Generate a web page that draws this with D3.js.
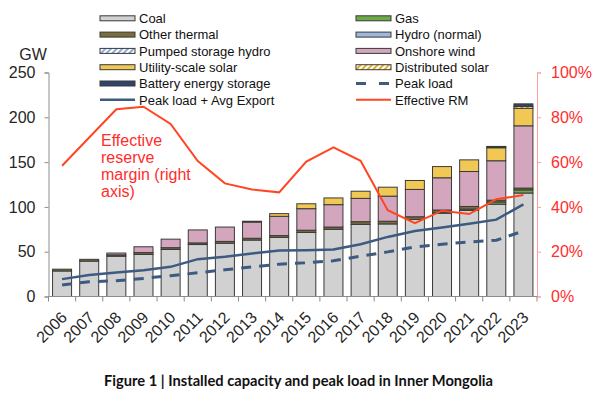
<!DOCTYPE html>
<html>
<head>
<meta charset="utf-8">
<script src="https://cdn.jsdelivr.net/npm/d3@7"></script>
<style>
  html, body { margin: 0; padding: 0; background: #fff; }
  svg { display: block; }
  text { font-family: "Liberation Sans", Arial, sans-serif; }
  text.title { font-family: Lato, "Noto Sans", sans-serif; font-weight: 700; }
</style>
</head>
<body>
<svg id="chart" width="600" height="396"></svg>
<script>
// ---------- data (GW) ----------
const years = ["2006","2007","2008","2009","2010","2011","2012","2013","2014",
               "2015","2016","2017","2018","2019","2020","2021","2022","2023"];
const coal          = [28.5, 39.5, 45, 47, 52.5, 58, 59.5, 63, 66, 71.5, 75, 80.5, 81, 86, 93, 96, 103, 115.5];
const gas           = [0, 0, 0, 0, 0, 0, 0, 0, 0, 0, 0, 0, 0, 0, 0.5, 1.5, 2.5, 3.5];
const otherThermal  = [2, 2, 1.5, 2, 2, 1.8, 2, 2, 2, 2.5, 2.5, 3, 3, 3, 3, 3, 2, 2];
const hydro         = [0, 0, 0, 0, 0, 0, 0, 0, 0, 0, 0, 0, 0, 0, 0, 0, 0, 0];
const pumpedStorage = [0, 0, 0, 0, 0, 0, 0, 0, 0, 0, 0, 0, 0, 0, 0, 0, 0, 0];
const onshoreWind   = [0, 0, 2, 6.5, 9.5, 14.5, 16, 18, 21.5, 24, 25, 26, 28, 30.5, 36, 39, 44, 69.5];
const utilitySolar  = [0, 0, 0, 0, 0, 0, 0, 1, 3, 5.5, 7.5, 8, 10, 10, 12.5, 13, 14.5, 19.5];
const distSolar     = [0, 0, 0, 0, 0, 0, 0, 0, 0, 0, 0, 0, 0, 0, 0, 0, 1, 2];
const battery       = [0, 0, 0, 0, 0, 0, 0, 0, 0, 0, 0, 0, 0, 0, 0, 0, 0.5, 3];
const peakLoad      = [12.8, 16.5, 17.6, 20.2, 23.2, 26.5, 29.8, 33.1, 36.1, 37.6, 39.8, 45, 49.8, 55.3, 58.3, 60.9, 62.8, 73.1];
const peakPlusExport= [19.4, 23.9, 26.9, 29.4, 33.1, 41.7, 44.3, 48, 51.3, 51.7, 52.4, 58.3, 66.5, 73.1, 76.9, 81.3, 85.8, 102.8];
const effectiveRM   = [0.584, 0.71, 0.836, 0.847, 0.77, 0.605, 0.505, 0.478, 0.465, 0.602, 0.666, 0.606, 0.385, 0.327, 0.383, 0.368, 0.434, 0.453];
const leftTicks  = [0, 50, 100, 150, 200, 250];
const rightTicks = [0, 0.2, 0.4, 0.6, 0.8, 1.0];

const seriesKeys  = ["coal","gas","otherThermal","hydro","pumpedStorage","onshoreWind","utilitySolar","distSolar","battery"];
const seriesData  = {coal, gas, otherThermal, hydro, pumpedStorage, onshoreWind, utilitySolar, distSolar, battery};
const seriesNames = {coal:"Coal", gas:"Gas", otherThermal:"Other thermal", hydro:"Hydro (normal)",
                     pumpedStorage:"Pumped storage hydro", onshoreWind:"Onshore wind",
                     utilitySolar:"Utility-scale solar", distSolar:"Distributed solar",
                     battery:"Battery energy storage"};

// ---------- styling ----------
const fills = {coal:"#d1d1d1", gas:"#6aab45", otherThermal:"#7a6c3c", hydro:"#9fb6dd",
               pumpedStorage:"url(#hatchBlue)", onshoreWind:"#d4a6bd", utilitySolar:"#f2c855",
               distSolar:"url(#hatchGold)", battery:"#2f4468"};
const navy = "#3d5a80", red = "#ff4522";

const svg = d3.select("#chart");
const defs = svg.append("defs");
function hatch(id, color) {
  const p = defs.append("pattern").attr("id", id).attr("patternUnits","userSpaceOnUse")
    .attr("width", 4).attr("height", 4).attr("patternTransform","rotate(45)");
  p.append("rect").attr("width",4).attr("height",4).attr("fill","#fff");
  p.append("rect").attr("width",2).attr("height",4).attr("fill",color);
}
hatch("hatchBlue", "#8eaad8");
hatch("hatchGold", "#e4ae2a");

const plotLeft = 48.5, plotRight = 537, plotTop = 72.5, plotBottom = 296.5;
const x = d3.scaleBand().domain(years).range([plotLeft, plotRight]).paddingInner(0.3).paddingOuter(0.15);
const y = d3.scaleLinear().domain([0, 250]).range([plotBottom, plotTop]);
const yR = d3.scaleLinear().domain([0, 1]).range([plotBottom, plotTop]);

// ---------- stacked bars ----------
const table = years.map((yr, i) => {
  const o = {year: yr};
  seriesKeys.forEach(k => o[k] = seriesData[k][i]);
  return o;
});
const stacked = d3.stack().keys(seriesKeys)(table);
svg.append("g").selectAll("g").data(stacked).join("g")
  .attr("fill", d => fills[d.key])
  .selectAll("rect").data(d => d.filter(s => s[1] - s[0] > 0)).join("rect")
  .attr("x", d => x(d.data.year))
  .attr("width", x.bandwidth())
  .attr("y", d => y(d[1]))
  .attr("height", d => y(d[0]) - y(d[1]))
  .attr("stroke", "#3a3a3a").attr("stroke-width", 1);

// ---------- axes ----------
const gL = svg.append("g").attr("transform", `translate(${plotLeft},0)`)
  .call(d3.axisLeft(y).tickValues(leftTicks).tickSize(4).tickPadding(9));
gL.select(".domain").attr("stroke", "#8c8c8c");
gL.selectAll(".tick line").attr("stroke", "#8c8c8c");
gL.selectAll(".tick text").attr("font-size", 16).attr("fill", "#262626");

const gR = svg.append("g").attr("transform", `translate(${plotRight},0)`)
  .call(d3.axisRight(yR).tickValues(rightTicks).tickSize(4).tickPadding(10).tickFormat(d3.format(".0%")));
gR.select(".domain").attr("stroke", "#ff9d9d");
gR.selectAll(".tick line").attr("stroke", "#ff9d9d");
gR.selectAll(".tick text").attr("font-size", 16).attr("fill", "#ff2d2d");

// bottom axis: boundary ticks + rotated labels
const gB = svg.append("g");
gB.append("line").attr("x1", plotLeft).attr("x2", plotRight).attr("y1", plotBottom).attr("y2", plotBottom)
  .attr("stroke", "#8c8c8c");
const half = x.step() * x.paddingInner() / 2;
const bounds = years.map(d => x(d) - half).concat([x(years[years.length - 1]) + x.bandwidth() + half]);
gB.selectAll("line.tk").data(bounds).join("line").attr("class","tk")
  .attr("x1", d => d).attr("x2", d => d).attr("y1", plotBottom).attr("y2", plotBottom + 5)
  .attr("stroke", "#8c8c8c");
gB.selectAll("text").data(years).join("text")
  .attr("transform", d => `translate(${x(d) + x.bandwidth()/2 + 6},${plotBottom + 22}) rotate(-45)`)
  .attr("text-anchor", "end").attr("font-size", 16).attr("fill", "#262626")
  .text(d => d);

svg.append("text").attr("x", 33).attr("y", 60).attr("text-anchor", "middle")
  .attr("font-size", 16).attr("fill", "#262626").text("GW");

// ---------- lines ----------
const cx = (d, i) => x(years[i]) + x.bandwidth() / 2;
const lineL = d3.line().x(cx).y(d => y(d));
const lineR = d3.line().x(cx).y(d => yR(d));
svg.append("path").datum(peakLoad).attr("d", lineL).attr("fill","none")
  .attr("stroke", navy).attr("stroke-width", 3).attr("stroke-dasharray", "10,8");
svg.append("path").datum(peakPlusExport).attr("d", lineL).attr("fill","none")
  .attr("stroke", navy).attr("stroke-width", 2.5);
svg.append("path").datum(effectiveRM).attr("d", lineR).attr("fill","none")
  .attr("stroke", red).attr("stroke-width", 2);

// ---------- annotation ----------
const ann = ["Effective", "reserve", "margin (right", "axis)"];
svg.append("g").selectAll("text").data(ann).join("text")
  .attr("x", 101).attr("y", (d, i) => 146 + i * 17)
  .attr("font-size", 16).attr("fill", "#ff2d2d").text(d => d);

// ---------- legend ----------
const legendItems = [
  {key:"coal", type:"bar"}, {key:"gas", type:"bar"},
  {key:"otherThermal", type:"bar"}, {key:"hydro", type:"bar"},
  {key:"pumpedStorage", type:"bar"}, {key:"onshoreWind", type:"bar"},
  {key:"utilitySolar", type:"bar"}, {key:"distSolar", type:"bar"},
  {key:"battery", type:"bar"}, {name:"Peak load", type:"dash"},
  {name:"Peak load + Avg Export", type:"solid"}, {name:"Effective RM", type:"red"}
];
const lg = svg.append("g");
legendItems.forEach((it, i) => {
  const col = i % 2, row = Math.floor(i / 2);
  const sx = col === 0 ? 100 : 356;
  const cy = 18.3 + row * 16.3;
  const g = lg.append("g");
  if (it.type === "bar") {
    g.append("rect").attr("x", sx).attr("y", cy - 2.5).attr("width", 35).attr("height", 5)
      .attr("fill", fills[it.key]).attr("stroke", "#3a3a3a").attr("stroke-width", 1);
  } else if (it.type === "dash") {
    g.append("line").attr("x1", sx).attr("x2", sx + 35).attr("y1", cy).attr("y2", cy)
      .attr("stroke", navy).attr("stroke-width", 3).attr("stroke-dasharray", "10,13");
  } else if (it.type === "solid") {
    g.append("line").attr("x1", sx).attr("x2", sx + 35).attr("y1", cy).attr("y2", cy)
      .attr("stroke", navy).attr("stroke-width", 2.5);
  } else {
    g.append("line").attr("x1", sx).attr("x2", sx + 35).attr("y1", cy).attr("y2", cy)
      .attr("stroke", red).attr("stroke-width", 2);
  }
  g.append("text").attr("x", sx + 39).attr("y", cy + 4.7).attr("font-size", 13)
    .attr("fill", "#111").text(it.key ? seriesNames[it.key] : it.name);
});

// ---------- title ----------
svg.append("text").attr("class", "title").attr("x", 104).attr("y", 386)
  .attr("font-size", 15).attr("fill", "#111")
  .attr("textLength", 389).attr("lengthAdjust", "spacingAndGlyphs")
  .text("Figure 1 | Installed capacity and peak load in Inner Mongolia");
</script>
</body>
</html>
